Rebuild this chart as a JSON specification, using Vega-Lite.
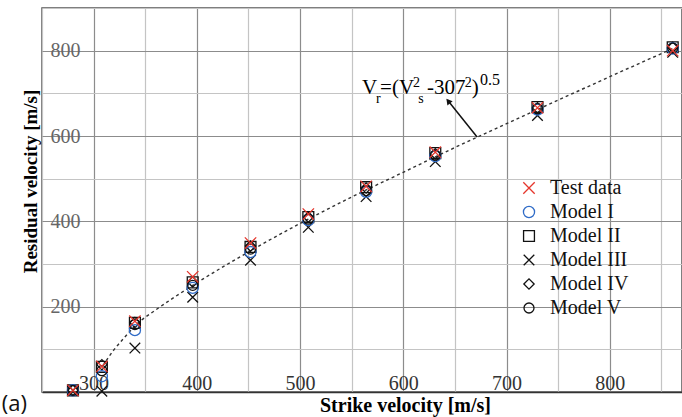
{
  "$schema": "https://vega.github.io/schema/vega-lite/v6.json",
  "width": 640,
  "height": 384,
  "autosize": "none",
  "padding": {"left": 42, "top": 8, "right": 0, "bottom": 25},
  "background": "white",
  "config": {"view": {"stroke": "#555", "strokeWidth": 1.5}, "font": "Liberation Serif"},
  "datasets": {
    "curve": [
      {"vs": 309, "vr": 62}, {"vs": 320, "vr": 100}, {"vs": 330, "vr": 128}, {"vs": 340, "vr": 155},
      {"vs": 360, "vr": 192}, {"vs": 380, "vr": 225}, {"vs": 400, "vr": 256}, {"vs": 430, "vr": 300},
      {"vs": 460, "vr": 342}, {"vs": 500, "vr": 395}, {"vs": 550, "vr": 457}, {"vs": 600, "vr": 515},
      {"vs": 650, "vr": 573}, {"vs": 700, "vr": 629}, {"vs": 750, "vr": 684}, {"vs": 800, "vr": 739},
      {"vs": 862, "vr": 806}
    ],
    "arrow": [{"vs": 671.5, "vr": 597.6, "vs2": 643, "vr2": 684}],
    "arrowTip": [{"vs": 643.5, "vr": 682}],
    "points": [
      {"vs": 280, "vr": 4, "series": "Model III"}, {"vs": 308, "vr": 2, "series": "Model III"}, {"vs": 340, "vr": 103, "series": "Model III"}, {"vs": 396, "vr": 222, "series": "Model III"}, {"vs": 452, "vr": 309, "series": "Model III"}, {"vs": 508, "vr": 386, "series": "Model III"}, {"vs": 564, "vr": 458, "series": "Model III"}, {"vs": 631, "vr": 540, "series": "Model III"}, {"vs": 730, "vr": 648, "series": "Model III"}, {"vs": 861, "vr": 796, "series": "Model III"},
      {"vs": 280, "vr": 4, "series": "Model IV"}, {"vs": 308, "vr": 64, "series": "Model IV"}, {"vs": 340, "vr": 163, "series": "Model IV"}, {"vs": 396, "vr": 258, "series": "Model IV"}, {"vs": 452, "vr": 342, "series": "Model IV"}, {"vs": 508, "vr": 410, "series": "Model IV"}, {"vs": 564, "vr": 478, "series": "Model IV"}, {"vs": 631, "vr": 558, "series": "Model IV"}, {"vs": 730, "vr": 666, "series": "Model IV"}, {"vs": 861, "vr": 808, "series": "Model IV"},
      {"vs": 280, "vr": 4, "series": "Model II"}, {"vs": 308, "vr": 59, "series": "Model II"}, {"vs": 340, "vr": 162, "series": "Model II"}, {"vs": 396, "vr": 257, "series": "Model II"}, {"vs": 452, "vr": 340, "series": "Model II"}, {"vs": 508, "vr": 410, "series": "Model II"}, {"vs": 564, "vr": 480, "series": "Model II"}, {"vs": 631, "vr": 560, "series": "Model II"}, {"vs": 730, "vr": 668, "series": "Model II"}, {"vs": 861, "vr": 808, "series": "Model II"},
      {"vs": 280, "vr": 4, "series": "Model I"}, {"vs": 308, "vr": 37, "series": "Model I"}, {"vs": 340, "vr": 145, "series": "Model I"}, {"vs": 396, "vr": 244, "series": "Model I"}, {"vs": 452, "vr": 328, "series": "Model I"}, {"vs": 508, "vr": 403, "series": "Model I"}, {"vs": 564, "vr": 469, "series": "Model I"}, {"vs": 631, "vr": 553, "series": "Model I"}, {"vs": 730, "vr": 662, "series": "Model I"}, {"vs": 861, "vr": 805, "series": "Model I"},
      {"vs": 280, "vr": 4, "series": "Model V"}, {"vs": 308, "vr": 50, "series": "Model V"}, {"vs": 340, "vr": 158, "series": "Model V"}, {"vs": 396, "vr": 250, "series": "Model V"}, {"vs": 452, "vr": 335, "series": "Model V"}, {"vs": 508, "vr": 405, "series": "Model V"}, {"vs": 564, "vr": 472, "series": "Model V"}, {"vs": 631, "vr": 555, "series": "Model V"}, {"vs": 730, "vr": 664, "series": "Model V"}, {"vs": 861, "vr": 806, "series": "Model V"},
      {"vs": 280, "vr": 4, "series": "Test data"}, {"vs": 308, "vr": 60, "series": "Test data"}, {"vs": 340, "vr": 166, "series": "Test data"}, {"vs": 396, "vr": 270, "series": "Test data"}, {"vs": 452, "vr": 349, "series": "Test data"}, {"vs": 508, "vr": 417, "series": "Test data"}, {"vs": 564, "vr": 482, "series": "Test data"}, {"vs": 631, "vr": 562, "series": "Test data"}, {"vs": 730, "vr": 666, "series": "Test data"}, {"vs": 861, "vr": 800, "series": "Test data"}
    ],
    "big": [
      {"vs": 560, "vr": 698, "t": "V"}, {"vs": 577.5, "vr": 698, "t": "=(V"},
      {"vs": 623, "vr": 698, "t": "-307"}, {"vs": 666.4, "vr": 698, "t": ")"}
    ],
    "small": [
      {"vs": 573.6, "vr": 677, "t": "r"}, {"vs": 614.5, "vr": 677, "t": "s"},
      {"vs": 609.5, "vr": 715, "t": "2"}, {"vs": 659.6, "vr": 715, "t": "2"}
    ],
    "smallB": [
      {"vs": 674.4, "vr": 719, "t": "0.5"}
    ],
    "tag": [{"vs": 211, "vr": -45, "t": "(a)"}]
  },
  "encoding": {
    "x": {
      "field": "vs", "type": "quantitative",
      "scale": {"domain": [250, 870], "nice": false, "zero": false},
      "axis": {
        "title": "Strike velocity [m/s]",
        "values": [250, 300, 350, 400, 450, 500, 550, 600, 650, 700, 750, 800, 850],
        "labelExpr": "datum.value % 100 === 0 && datum.value >= 300 ? datum.label : ''",
        "grid": true,
        "gridColor": {"condition": {"test": "datum.value % 100 === 0", "value": "#8c8c8c"}, "value": "#c4c4c4"},
        "gridWidth": 1.2,
        "ticks": false,
        "domain": true, "domainColor": "#333", "domainWidth": 1.5,
        "labelPadding": -3, "labelBaseline": "alphabetic", "labelFontSize": 20,
        "labelColor": "#333", "labelFont": "Liberation Serif", "labelOverlap": false, "labelFlush": false,
        "titleFont": "Liberation Serif", "titleFontSize": 20, "titleFontWeight": "bold", "titleColor": "#000",
        "titleX": 363, "titleY": 19, "titleBaseline": "alphabetic", "titleAlign": "center"
      }
    },
    "y": {
      "field": "vr", "type": "quantitative",
      "scale": {"domain": [0, 900], "nice": false},
      "axis": {
        "title": "Residual velocity [m/s]",
        "values": [0, 100, 200, 300, 400, 500, 600, 700, 800, 900],
        "labelExpr": "datum.value % 200 === 0 && datum.value > 0 ? datum.label : ''",
        "grid": true,
        "gridColor": {"condition": {"test": "datum.value % 200 === 0", "value": "#8c8c8c"}, "value": "#c4c4c4"},
        "gridWidth": 1.2,
        "ticks": false, "domain": false,
        "labelAlign": "left", "labelBaseline": "middle", "labelPadding": -8,
        "labelFontSize": 20, "labelColor": "#666", "labelFont": "Liberation Serif", "labelOverlap": false, "labelFlush": false,
        "titleFont": "Liberation Serif", "titleFontSize": 19, "titleFontWeight": "bold", "titleColor": "#000",
        "titleAngle": 270, "titleX": -2, "titleY": 173, "titleBaseline": "bottom", "titleAlign": "center"
      }
    }
  },
  "layer": [
    {
      "data": {"name": "curve"},
      "mark": {"type": "line", "strokeDash": [3, 3], "color": "#333", "strokeWidth": 1.4, "interpolate": "monotone"}
    },
    {
      "data": {"name": "arrow"},
      "mark": {"type": "rule", "color": "#111", "strokeWidth": 1.5},
      "encoding": {"x2": {"field": "vs2"}, "y2": {"field": "vr2"}}
    },
    {
      "data": {"name": "arrowTip"},
      "mark": {"type": "point", "shape": "triangle-up", "filled": true, "color": "#111", "size": 45, "angle": 321, "opacity": 1}
    },
    {
      "data": {"name": "points"},
      "mark": {"type": "point", "filled": false, "strokeWidth": 1.3, "opacity": 1},
      "encoding": {
        "color": {
          "field": "series", "type": "nominal",
          "scale": {"domain": ["Test data", "Model I", "Model II", "Model III", "Model IV", "Model V"],
                    "range": ["#e5362c", "#2f6bc7", "#111111", "#111111", "#111111", "#111111"]},
          "legend": {
            "title": null, "orient": "none", "legendX": 477, "legendY": 170,
            "labelFont": "Liberation Serif", "labelFontSize": 20, "labelColor": "#111",
            "rowPadding": 4, "labelOffset": 11, "symbolStrokeWidth": 1.3
          }
        },
        "shape": {
          "field": "series", "type": "nominal",
          "scale": {"domain": ["Test data", "Model I", "Model II", "Model III", "Model IV", "Model V"],
                    "range": ["M-1,-1L1,1M1,-1L-1,1", "circle", "square", "M-1,-1L1,1M1,-1L-1,1", "diamond", "circle"]}
        },
        "size": {
          "field": "series", "type": "nominal",
          "scale": {"domain": ["Test data", "Model I", "Model II", "Model III", "Model IV", "Model V"],
                    "range": [130, 100, 100, 170, 150, 30]}
        }
      }
    },
    {
      "data": {"name": "big"},
      "mark": {"type": "text", "align": "left", "baseline": "alphabetic", "font": "Liberation Serif", "fontSize": 21, "color": "#000"},
      "encoding": {"text": {"field": "t"}}
    },
    {
      "data": {"name": "small"},
      "mark": {"type": "text", "align": "left", "baseline": "alphabetic", "font": "Liberation Serif", "fontSize": 14, "color": "#000"},
      "encoding": {"text": {"field": "t"}}
    },
    {
      "data": {"name": "smallB"},
      "mark": {"type": "text", "align": "left", "baseline": "alphabetic", "font": "Liberation Serif", "fontSize": 16, "color": "#000"},
      "encoding": {"text": {"field": "t"}}
    },
    {
      "data": {"name": "tag"},
      "mark": {"type": "text", "align": "left", "baseline": "alphabetic", "font": "Open Sans", "fontSize": 22, "color": "#111"},
      "encoding": {"text": {"field": "t"}}
    }
  ]
}
